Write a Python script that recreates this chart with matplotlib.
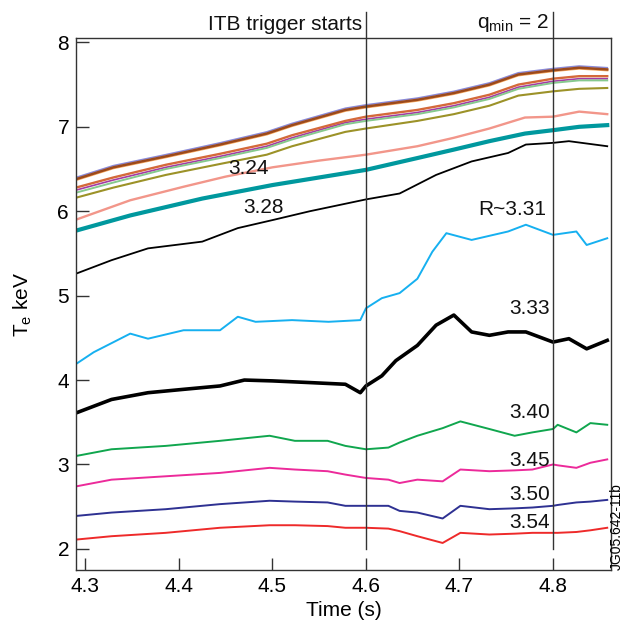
import matplotlib
matplotlib.use("Agg")
import matplotlib.pyplot as plt

plt.rcParams['font.family'] = ['Liberation Sans', 'DejaVu Sans']
plt.rcParams['mathtext.default'] = 'regular'

# ---------------- data ----------------
t_top = [4.29, 4.33, 4.386, 4.444, 4.494, 4.521, 4.578, 4.60, 4.655, 4.694, 4.732, 4.763, 4.80, 4.828, 4.858]
te_blue   = [6.40, 6.54, 6.67, 6.81, 6.94, 7.04, 7.22, 7.26, 7.34, 7.42, 7.52, 7.64, 7.69, 7.72, 7.70]
te_orange = [6.37, 6.51, 6.64, 6.78, 6.91, 7.01, 7.19, 7.23, 7.31, 7.39, 7.49, 7.61, 7.66, 7.69, 7.67]
te_brown  = [6.38, 6.52, 6.65, 6.79, 6.92, 7.02, 7.20, 7.24, 7.32, 7.40, 7.50, 7.62, 7.67, 7.70, 7.68]
te_coral  = [6.28, 6.40, 6.55, 6.68, 6.80, 6.90, 7.07, 7.12, 7.20, 7.28, 7.38, 7.50, 7.57, 7.60, 7.60]
te_purple = [6.25, 6.37, 6.52, 6.65, 6.77, 6.87, 7.05, 7.09, 7.17, 7.25, 7.35, 7.47, 7.54, 7.57, 7.57]
te_lgreen = [6.22, 6.34, 6.50, 6.63, 6.75, 6.85, 7.03, 7.07, 7.15, 7.23, 7.33, 7.45, 7.52, 7.55, 7.55]
te_olive  = [6.16, 6.28, 6.43, 6.56, 6.67, 6.77, 6.94, 6.98, 7.07, 7.15, 7.25, 7.37, 7.42, 7.45, 7.46]

t_salmon = [4.29, 4.348, 4.405, 4.45, 4.50, 4.55, 4.60, 4.655, 4.694, 4.732, 4.77, 4.80, 4.828, 4.858]
te_salmon = [5.90, 6.13, 6.29, 6.41, 6.52, 6.60, 6.67, 6.77, 6.87, 6.98, 7.11, 7.12, 7.18, 7.15]

t_teal = [4.29, 4.348, 4.425, 4.50, 4.55, 4.60, 4.655, 4.694, 4.732, 4.77, 4.80, 4.828, 4.858]
te_teal = [5.77, 5.95, 6.15, 6.31, 6.40, 6.49, 6.63, 6.73, 6.83, 6.92, 6.96, 7.00, 7.02]

t_328 = [4.29, 4.328, 4.367, 4.425, 4.463, 4.502, 4.54, 4.60, 4.636, 4.675, 4.713, 4.752, 4.771, 4.80, 4.817, 4.858]
te_328 = [5.26, 5.42, 5.56, 5.64, 5.80, 5.90, 6.00, 6.14, 6.21, 6.43, 6.59, 6.69, 6.79, 6.81, 6.83, 6.77]

t_331 = [4.29, 4.309, 4.348, 4.367, 4.405, 4.444, 4.463, 4.482, 4.521, 4.56, 4.594, 4.60, 4.617, 4.636,
         4.655, 4.671, 4.686, 4.713, 4.752, 4.771, 4.80, 4.825, 4.836, 4.858]
te_331 = [4.19, 4.33, 4.55, 4.49, 4.59, 4.59, 4.75, 4.69, 4.71, 4.69, 4.71, 4.85, 4.97, 5.03,
          5.20, 5.52, 5.74, 5.66, 5.76, 5.84, 5.72, 5.76, 5.60, 5.68]

t_333 = [4.29, 4.328, 4.367, 4.405, 4.444, 4.47, 4.50, 4.54, 4.578, 4.594, 4.60, 4.617, 4.632,
         4.655, 4.675, 4.694, 4.713, 4.732, 4.752, 4.771, 4.80, 4.817, 4.836, 4.858]
te_333 = [3.61, 3.77, 3.85, 3.89, 3.93, 4.00, 3.99, 3.97, 3.95, 3.85, 3.93, 4.05, 4.23,
          4.41, 4.65, 4.77, 4.57, 4.53, 4.57, 4.57, 4.45, 4.49, 4.37, 4.47]

t_low = [4.29, 4.328, 4.386, 4.444, 4.497, 4.524, 4.559, 4.578, 4.60, 4.624, 4.636, 4.655,
         4.682, 4.701, 4.732, 4.759, 4.778, 4.80, 4.805, 4.825, 4.84, 4.858]
te_340 = [3.10, 3.18, 3.22, 3.28, 3.34, 3.28, 3.28, 3.22, 3.18, 3.20, 3.26, 3.34,
          3.43, 3.51, 3.42, 3.34, 3.38, 3.42, 3.47, 3.38, 3.49, 3.47]
te_345 = [2.74, 2.82, 2.86, 2.90, 2.96, 2.94, 2.92, 2.88, 2.84, 2.82, 2.78, 2.82,
          2.80, 2.94, 2.92, 2.93, 2.94, 3.00, 2.99, 2.96, 3.02, 3.06]
te_350 = [2.39, 2.43, 2.47, 2.53, 2.57, 2.56, 2.55, 2.51, 2.51, 2.51, 2.45, 2.43,
          2.36, 2.51, 2.47, 2.48, 2.49, 2.51, 2.52, 2.55, 2.56, 2.58]
te_354 = [2.11, 2.15, 2.19, 2.25, 2.28, 2.28, 2.27, 2.25, 2.25, 2.24, 2.21, 2.15,
          2.07, 2.19, 2.17, 2.18, 2.19, 2.19, 2.19, 2.20, 2.22, 2.25]

radius_labels = ["3.24", "3.28", "R~3.31", "3.33", "3.40", "3.45", "3.50", "3.54"]
label_t = [4.474, 4.49, 4.756, 4.775, 4.775, 4.775, 4.775, 4.775]
label_te = [6.51, 6.04, 6.02, 4.85, 3.62, 3.05, 2.64, 2.31]

event_times = [4.6, 4.8]
event_labels = ["ITB trigger starts", "q$_{min}$ = 2"]

x_ticks = [4.3, 4.4, 4.5, 4.6, 4.7, 4.8]
y_ticks = [2, 3, 4, 5, 6, 7, 8]

# ---------------- figure ----------------
fig = plt.figure(figsize=(6.26, 6.26), dpi=100)
ax = fig.add_axes([0.1214, 0.0895, 0.976 - 0.1214, 0.939 - 0.0895])

series = [
    (t_top, te_blue, '#8a8ad8', 1.2),
    (t_top, te_orange, '#f6a85e', 1.6),
    (t_top, te_brown, '#9c4a1c', 1.8),
    (t_top, te_purple, '#a43aa4', 1.2),
    (t_top, te_coral, '#d4693a', 1.7),
    (t_top, te_lgreen, '#86c98e', 1.4),
    (t_top, te_olive, '#9c9228', 1.5),
    (t_salmon, te_salmon, '#f2968a', 1.7),
    (t_teal, te_teal, '#00989e', 3.0),
    (t_328, te_328, '#000000', 1.3),
    (t_331, te_331, '#16b0f0', 1.4),
    (t_333, te_333, '#000000', 2.6),
    (t_low, te_340, '#10a64e', 1.4),
    (t_low, te_345, '#ec2a9a', 1.4),
    (t_low, te_350, '#2e3192', 1.4),
    (t_low, te_354, '#ee2a2a', 1.4),
]
for t, v, c, w in series:
    ax.plot(t, v, color=c, lw=w, solid_joinstyle='round')

for s, tx, ty in zip(radius_labels, label_t, label_te):
    ax.text(tx, ty, s, fontsize=15, ha='center', va='center', color='#111111')

ax.set_xlim(4.29, 4.862)
ax.set_ylim(1.75, 8.05)

top_y = 8.05 + 26 / 84.1
for et, el in zip(event_times, event_labels):
    ax.plot([et, et], [2.0, top_y], color='#333333', lw=1.0, clip_on=False)
    ax.text(et - 0.004, 8.1, el, fontsize=15, ha='right', va='bottom', color='#111111')

ax.set_xticks(x_ticks)
ax.set_yticks(y_ticks)
ax.set_xticklabels([f"{v:.1f}" for v in x_ticks])
ax.set_yticklabels([str(v) for v in y_ticks])
ax.tick_params(direction='in', length=9, width=1.0, labelsize=15, pad=5, color='#333333')
for sp in ax.spines.values():
    sp.set_color('#333333')
    sp.set_linewidth(1.0)

ax.set_xlabel("Time (s)", fontsize=15, labelpad=4)
ax.set_ylabel("T$_e$ keV", fontsize=15, labelpad=17)

fig.text(0.986, 0.09, "JG05.642-11b", rotation=90, fontsize=10, ha='center', va='bottom')

fig.savefig("out.png", dpi=100)
